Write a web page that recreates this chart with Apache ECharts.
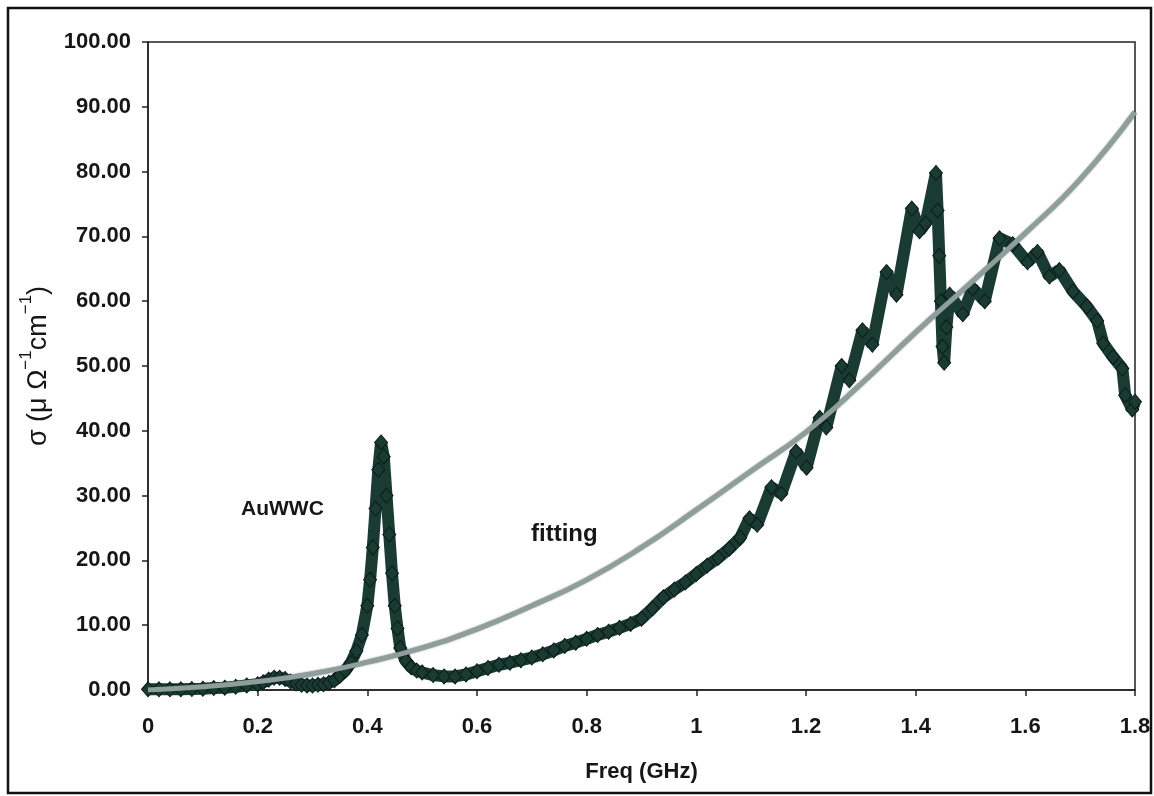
<!DOCTYPE html>
<html>
<head>
<meta charset="utf-8">
<title>AuWWC conductivity</title>
<script src="https://cdn.jsdelivr.net/npm/echarts@6/dist/echarts.min.js"></script>
<style>
  html, body { margin: 0; padding: 0; background: #fff; }
  #chart { width: 1154px; height: 796px; }
</style>
</head>
<body>
<div id="chart"></div>
<script>
// measured AuWWC data (GHz, uOhm^-1 cm^-1)
const freq = [
  0.00, 0.02, 0.04, 0.06, 0.08, 0.10, 0.12, 0.14, 0.16, 0.18,
  0.20, 0.21, 0.22, 0.23, 0.24, 0.25, 0.26, 0.27, 0.28, 0.29,
  0.30, 0.31, 0.32, 0.33, 0.34, 0.35, 0.36, 0.37, 0.38, 0.39,
  0.40, 0.405, 0.41, 0.415, 0.42, 0.425, 0.43, 0.435, 0.44, 0.445,
  0.45, 0.455, 0.46, 0.47, 0.48, 0.49, 0.50, 0.52, 0.54, 0.56,
  0.58, 0.60, 0.62, 0.64, 0.66, 0.68, 0.70, 0.72, 0.74, 0.76,
  0.78, 0.80, 0.82, 0.84, 0.86, 0.88, 0.90, 0.92, 0.94, 0.96,
  0.98, 1.00, 1.02, 1.04, 1.06, 1.08, 1.097, 1.111, 1.137, 1.155,
  1.182, 1.201, 1.225, 1.237, 1.265, 1.279, 1.303, 1.321, 1.347, 1.365,
  1.393, 1.407, 1.418, 1.437, 1.440, 1.443, 1.446, 1.449, 1.452, 1.456,
  1.462, 1.486, 1.504, 1.526, 1.553, 1.577, 1.604, 1.622, 1.644, 1.662,
  1.687, 1.712, 1.731, 1.742, 1.760, 1.777, 1.782, 1.795, 1.800
];
const sigma = [
  0.1, 0.1, 0.1, 0.1, 0.15, 0.2, 0.3, 0.35, 0.5, 0.7,
  0.9, 1.2, 1.6, 1.9, 1.9, 1.7, 1.3, 1.0, 0.8, 0.7,
  0.7, 0.8, 0.9, 1.1, 1.5, 2.2, 3.0, 4.2, 6.0, 8.5,
  13, 17, 22, 28, 34, 38.2, 36, 30, 24, 18,
  13, 9.5, 6.5, 4.5, 3.5, 3.0, 2.7, 2.3, 2.1, 2.1,
  2.4, 2.9, 3.4, 3.9, 4.2, 4.6, 5.0, 5.5, 6.1, 6.8,
  7.3, 7.9, 8.5, 9.0, 9.6, 10.2, 11.0, 12.6, 14.3, 15.5,
  16.6, 17.9, 19.2, 20.4, 21.8, 23.5, 26.5, 25.5, 31.3, 30.3,
  36.8, 34.3, 42.0, 40.5, 50.0, 47.8, 55.5, 53.3, 64.5, 61.0,
  74.3, 70.8, 72.0, 79.8, 74, 67, 60, 53, 50.5, 56,
  61, 58, 62, 60, 69.7, 68.8, 66, 67.6, 63.8, 64.8,
  61.5, 59.2, 57, 53.5, 51.4, 49.6, 45.5, 43.3, 44.5
];

// fitted curve
const fitFreq = [0, 0.1, 0.2, 0.3, 0.4, 0.5, 0.6, 0.7, 0.8, 0.9, 1.0, 1.1, 1.2, 1.3, 1.4, 1.5, 1.6, 1.7, 1.8];
const fitSigma = [0.0, 0.5, 1.3, 2.5, 4.3, 6.5, 9.4, 13.0, 17.0, 22.0, 27.8, 33.8, 39.8, 47.2, 55.2, 62.8, 70.5, 78.8, 89.2];

const xTicks = [0, 0.2, 0.4, 0.6, 0.8, 1, 1.2, 1.4, 1.6, 1.8];

const chart = echarts.init(document.getElementById("chart"));

const font = "'Liberation Sans', Arial, sans-serif";
const ink = "#161616";

const option = {
  animation: false,
  backgroundColor: "#fff",
  grid: {
    left: 148,
    right: 19,
    top: 42,
    bottom: 106,
    show: true,
    borderColor: "#222",
    borderWidth: 1.5
  },
  xAxis: {
    type: "value",
    min: 0,
    max: 1.8,
    interval: 0.2,
    name: "Freq (GHz)",
    nameLocation: "middle",
    nameGap: 71,
    nameTextStyle: { color: ink, fontFamily: font, fontWeight: "bold", fontSize: 22 },
    axisLine: { show: true, lineStyle: { color: "#222", width: 1.5 } },
    axisTick: { show: true, length: 6, lineStyle: { color: "#222", width: 1.5 } },
    axisLabel: {
      margin: 26,
      color: ink,
      fontFamily: font,
      fontWeight: "bold",
      fontSize: 22,
      formatter: function (v) {
        const t = xTicks.find(function (k) { return Math.abs(k - v) < 1e-6; });
        return t === undefined ? "" : String(t);
      }
    },
    splitLine: { show: false }
  },
  yAxis: {
    type: "value",
    min: 0,
    max: 100,
    interval: 10,
    name: "{n|σ (μ Ω}{s|−1}{n|cm}{s|−1}{n|)}",
    nameLocation: "middle",
    nameRotate: 90,
    nameGap: 96,
    nameTextStyle: {
      color: ink,
      fontFamily: font,
      fontSize: 27,
      rich: {
        n: { fontFamily: font, fontSize: 27, color: ink, lineHeight: 34, verticalAlign: "bottom" },
        s: { fontFamily: font, fontSize: 17, color: ink, lineHeight: 34, verticalAlign: "top" }
      }
    },
    axisLine: { show: true, lineStyle: { color: "#222", width: 1.5 } },
    axisTick: { show: true, length: 6, lineStyle: { color: "#222", width: 1.5 } },
    axisLabel: {
      margin: 17,
      color: ink,
      fontFamily: font,
      fontWeight: "bold",
      fontSize: 22,
      formatter: function (v) { return v.toFixed(2); }
    },
    splitLine: { show: false }
  },
  graphic: [
    {
      type: "rect",
      shape: { x: 8, y: 8, width: 1143, height: 785 },
      style: { fill: "none", stroke: "#111", lineWidth: 2.5 },
      silent: true
    },
    {
      type: "text",
      left: 241,
      top: 499,
      style: { text: "AuWWC", fill: ink, font: "bold 21px " + font }
    },
    {
      type: "text",
      left: 531,
      top: 522,
      style: { text: "fitting", fill: ink, font: "bold 24px " + font }
    }
  ],
  series: [
    {
      name: "AuWWC",
      type: "line",
      data: freq.map(function (f, i) { return [f, sigma[i]]; }),
      symbol: "diamond",
      symbolSize: [13, 15],
      showSymbol: true,
      itemStyle: { color: "#1a3b32", borderColor: "#0c1c17", borderWidth: 1 },
      lineStyle: { color: "#1a3b32", width: 12 },
      z: 2
    },
    {
      name: "fitting",
      type: "line",
      smooth: true,
      data: fitFreq.map(function (f, i) { return [f, fitSigma[i]]; }),
      showSymbol: false,
      lineStyle: { color: "#8f9d9b", width: 5, shadowColor: "rgba(40,60,55,0.6)", shadowBlur: 2 },
      z: 3
    }
  ]
};

chart.setOption(option);
window.addEventListener("resize", function () { chart.resize(); });
</script>
</body>
</html>
